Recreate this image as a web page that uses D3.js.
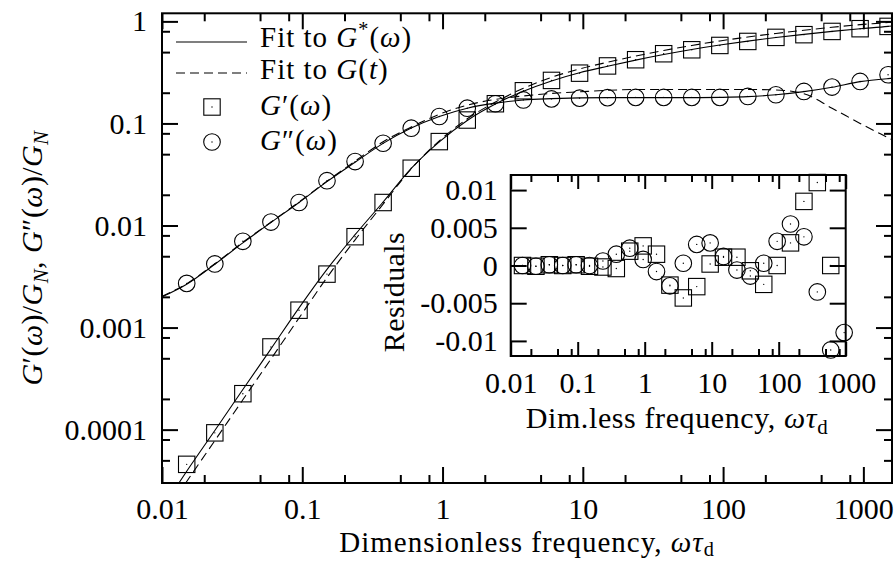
<!DOCTYPE html>
<html>
<head>
<meta charset="utf-8">
<script src="https://cdn.jsdelivr.net/npm/d3@7"></script>
<style>
  body { margin: 0; background: #fff; }
  text { font-family: "Liberation Serif", serif; fill: #000; }
</style>
</head>
<body>
<script>
// measured points (dimensionless frequency, G'/GN, G''/GN)
var freq = [0.015, 0.0238, 0.0377, 0.0598, 0.0948, 0.150, 0.238, 0.377, 0.598, 0.948,
            1.50, 2.38, 3.77, 5.98, 9.48, 15.0, 23.8, 37.7, 59.8, 94.8,
            150, 238, 377, 598, 948, 1500];
var storage = [4.57e-5, 9.3e-5, 2.25e-4, 6.46e-4, 1.48e-3, 3.34e-3, 7.77e-3, 0.0168, 0.0364, 0.0664,
               0.108, 0.156, 0.209, 0.264, 0.311, 0.366, 0.421, 0.482, 0.527, 0.581,
               0.636, 0.697, 0.741, 0.797, 0.848, 0.893];
var loss = [2.71e-3, 4.2e-3, 7.0e-3, 0.0108, 0.0168, 0.0275, 0.0423, 0.064, 0.0899, 0.117,
            0.141, 0.156, 0.170, 0.174, 0.177, 0.179, 0.180, 0.180, 0.180, 0.180,
            0.184, 0.191, 0.206, 0.227, 0.258, 0.300];

// fitted curves
var fitFreq = [0.01, 0.015, 0.0238, 0.0377, 0.0598, 0.0948, 0.150, 0.238, 0.377, 0.598, 0.948,
               1.50, 2.38, 3.77, 5.98, 9.48, 15.0, 23.8, 37.7, 59.8, 94.8,
               150, 238, 377, 598, 948, 1500, 1600];
var fitStorageStar = [1.69e-5, 3.91e-5, 9.82e-5, 2.47e-4, 6.19e-4, 1.56e-3, 3.72e-3, 8.13e-3, 0.0170, 0.0363, 0.0661,
                      0.107, 0.155, 0.207, 0.261, 0.314, 0.363, 0.417, 0.473, 0.530, 0.586,
                      0.641, 0.695, 0.746, 0.798, 0.847, 0.893, 0.902];
var fitStorageT = [1.35e-5, 3.10e-5, 7.80e-5, 1.96e-4, 4.92e-4, 1.24e-3, 3.09e-3, 7.24e-3, 0.0162, 0.0359, 0.0676,
                   0.111, 0.162, 0.221, 0.283, 0.342, 0.398, 0.457, 0.519, 0.581, 0.643,
                   0.703, 0.762, 0.818, 0.875, 0.929, 0.977, 0.986];
var fitLossStar = [2.0e-3, 2.66e-3, 4.17e-3, 6.76e-3, 0.0107, 0.0168, 0.0269, 0.0417, 0.0638, 0.0902, 0.117,
                   0.141, 0.158, 0.170, 0.175, 0.178, 0.179, 0.179, 0.179, 0.179, 0.180,
                   0.183, 0.191, 0.205, 0.226, 0.257, 0.275, 0.277];
var fitLossT = [2.02e-3, 2.69e-3, 4.22e-3, 6.84e-3, 0.0108, 0.0170, 0.0272, 0.0427, 0.0661, 0.0923, 0.123,
                0.151, 0.172, 0.186, 0.197, 0.204, 0.211, 0.215, 0.215, 0.215, 0.215,
                0.215, 0.213, 0.195, 0.141, 0.100, 0.0724, 0.0692];

// residuals shown in the inset
var residStorage = [0, -0.0001, 0.0001, 0, 0.0001, -0.0001, -0.0002, -0.0004, 0.0019, 0.0026,
                    0.0015, -0.0026, -0.0043, -0.0028, 0.0002, 0.0011, 0.0011, -0.0007, -0.0025, 0,
                    0.003, 0.0085, 0.011, 0];
var residLoss = [0, -0.0001, 0.0001, 0, 0.0001, 0, 0.0006, 0.0015, 0.0023, 0.0008,
                 -0.0008, -0.0027, 0.0003, 0.0028, 0.003, 0.0012, -0.0006, -0.0014, 0.0003, 0.0032,
                 0.0055, 0.0038, -0.0035, -0.0112, -0.0089];

// tick values
var xMajor = [0.01, 0.1, 1, 10, 100, 1000];
var xLabels = ["0.01", "0.1", "1", "10", "100", "1000"];
var yMajor = [0.0001, 0.001, 0.01, 0.1, 1];
var yLabels = ["0.0001", "0.001", "0.01", "0.1", "1"];
var insetYMajor = [-0.01, -0.005, 0, 0.005, 0.01];
var insetYLabels = ["-0.01", "-0.005", "0", "0.005", "0.01"];
var minorMult = [2, 5, 8];

var width = 896, height = 563;
var fs = 30;

const svg = d3.select("body").append("svg")
              .attr("width", width)
              .attr("height", height);

svg.append("rect").attr("width", width).attr("height", height).attr("fill", "#fff");

// main scales
var x = d3.scaleLog().domain([0.01, 1600]).range([162, 892]);
var y = d3.scaleLog().domain([3e-5, 1.2]).range([483, 13.3]);

function minorsOf(decades, scale) {
  var dom = scale.domain(), out = [];
  decades.forEach(function(d) {
    minorMult.forEach(function(m) {
      var v = d * m;
      if (v > dom[0] && v < dom[1]) out.push(v);
    });
  });
  return out;
}

function styleAxis(g) {
  g.select(".domain").remove();
  g.selectAll("line").attr("stroke", "#000").attr("stroke-width", 2);
  g.selectAll("text").attr("font-size", fs).attr("font-family", "Liberation Serif");
  return g;
}

function axes(root, xs, ys, opt) {
  var x0 = xs.range()[0], x1 = xs.range()[1];
  var y0 = ys.range()[0], y1 = ys.range()[1];
  var xMinor = minorsOf(opt.xDecades, xs);
  // bottom
  root.append("g").attr("transform", "translate(0," + y0 + ")")
      .call(d3.axisBottom(xs).tickValues(opt.xMajor).tickSize(-opt.xLong).tickPadding(opt.xPad)
            .tickFormat(function(d, i) { return opt.xLabels[i]; }))
      .call(styleAxis);
  root.append("g").attr("transform", "translate(0," + y0 + ")")
      .call(d3.axisBottom(xs).tickValues(xMinor).tickSize(-opt.xShort).tickFormat(""))
      .call(styleAxis);
  // top
  root.append("g").attr("transform", "translate(0," + y1 + ")")
      .call(d3.axisTop(xs).tickValues(opt.xMajor).tickSize(-opt.xLong).tickFormat(""))
      .call(styleAxis);
  root.append("g").attr("transform", "translate(0," + y1 + ")")
      .call(d3.axisTop(xs).tickValues(xMinor).tickSize(-opt.xShort).tickFormat(""))
      .call(styleAxis);
  // left
  root.append("g").attr("transform", "translate(" + x0 + ",0)")
      .call(d3.axisLeft(ys).tickValues(opt.yMajor).tickSize(-opt.yLong).tickPadding(opt.yPad)
            .tickFormat(function(d, i) { return opt.yLabels[i]; }))
      .call(styleAxis);
  root.append("g").attr("transform", "translate(" + x1 + ",0)")
      .call(d3.axisRight(ys).tickValues(opt.yMajor).tickSize(-opt.yLong).tickFormat(""))
      .call(styleAxis);
  if (opt.yMinor) {
    root.append("g").attr("transform", "translate(" + x0 + ",0)")
        .call(d3.axisLeft(ys).tickValues(opt.yMinor).tickSize(-opt.yShort).tickFormat(""))
        .call(styleAxis);
    root.append("g").attr("transform", "translate(" + x1 + ",0)")
        .call(d3.axisRight(ys).tickValues(opt.yMinor).tickSize(-opt.yShort).tickFormat(""))
        .call(styleAxis);
  }
  // frame
  root.append("rect")
      .attr("x", x0).attr("y", y1)
      .attr("width", x1 - x0).attr("height", y0 - y1)
      .attr("fill", "none").attr("stroke", "#000").attr("stroke-width", 2);
}

// text with italic / sub / sup pieces
function mathText(g, px, py, parts, anchor, rotate, size, spacing, subShift) {
  var f = size || fs;
  var t = g.append("text")
           .attr("font-size", f)
           .attr("letter-spacing", spacing || 0)
           .attr("text-anchor", anchor || "start");
  if (rotate) t.attr("transform", "translate(" + px + "," + py + ") rotate(" + rotate + ")");
  else t.attr("x", px).attr("y", py);
  parts.forEach(function(p) {
    var s = t.append("tspan").text(p[0]);
    var st = p[1] || "";
    if (st.indexOf("i") >= 0) s.attr("font-style", "italic");
    if (st.indexOf("sub") >= 0) s.attr("font-size", f * 0.7).attr("baseline-shift", -(subShift || 6));
    if (st.indexOf("sup") >= 0) s.attr("font-size", f * 0.7).attr("baseline-shift", 11);
  });
  return t;
}

// ---------- main plot ----------
svg.append("clipPath").attr("id", "clipMain")
   .append("rect").attr("x", 162).attr("y", 13.3).attr("width", 730).attr("height", 469.7);

var plot = svg.append("g").attr("clip-path", "url(#clipMain)");

var line = d3.line()
             .x(function(d) { return x(d[0]); })
             .y(function(d) { return y(d[1]); })
             .curve(d3.curveMonotoneX);

function fitCurve(vals, dashed) {
  plot.append("path")
      .datum(fitFreq.map(function(f, i) { return [f, vals[i]]; }))
      .attr("d", line)
      .attr("fill", "none")
      .attr("stroke", "#000")
      .attr("stroke-width", 1.1)
      .attr("stroke-dasharray", dashed ? "9,5" : null);
}
fitCurve(fitStorageStar, false);
fitCurve(fitLossStar, false);
fitCurve(fitStorageT, true);
fitCurve(fitLossT, true);

function squares(g, pts, xs, ys) {
  g.selectAll(null).data(pts).enter().append("rect")
   .attr("x", function(d) { return xs(d[0]) - 8.2; })
   .attr("y", function(d) { return ys(d[1]) - 8.2; })
   .attr("width", 16.4).attr("height", 16.4)
   .attr("fill", "none").attr("stroke", "#000").attr("stroke-width", 1.1);
  dots(g, pts, xs, ys);
}
function circles(g, pts, xs, ys) {
  g.selectAll(null).data(pts).enter().append("circle")
   .attr("cx", function(d) { return xs(d[0]); })
   .attr("cy", function(d) { return ys(d[1]); })
   .attr("r", 8.3)
   .attr("fill", "none").attr("stroke", "#000").attr("stroke-width", 1.1);
  dots(g, pts, xs, ys);
}
function dots(g, pts, xs, ys) {
  g.selectAll(null).data(pts).enter().append("circle")
   .attr("cx", function(d) { return xs(d[0]); })
   .attr("cy", function(d) { return ys(d[1]); })
   .attr("r", 0.7).attr("fill", "#000");
}

var markG = svg.append("g").attr("clip-path", "url(#clipMain)");
squares(markG, freq.map(function(f, i) { return [f, storage[i]]; }), x, y);
circles(markG, freq.map(function(f, i) { return [f, loss[i]]; }), x, y);

axes(svg, x, y, {
  xDecades: xMajor, xMajor: xMajor, xLabels: xLabels, xLong: 16, xShort: 8, xPad: 15,
  yMajor: yMajor, yLabels: yLabels, yLong: 16, yShort: 8, yPad: 15,
  yMinor: minorsOf([1e-5, 1e-4, 1e-3, 1e-2, 1e-1], y)
});

// legend
var leg = svg.append("g");
leg.append("line").attr("x1", 176).attr("x2", 247).attr("y1", 42).attr("y2", 42)
   .attr("stroke", "#000").attr("stroke-width", 1.1);
leg.append("line").attr("x1", 176).attr("x2", 247).attr("y1", 73).attr("y2", 73)
   .attr("stroke", "#000").attr("stroke-width", 1.1).attr("stroke-dasharray", "9,5");
leg.append("rect").attr("x", 212 - 8.2).attr("y", 107 - 8.2).attr("width", 16.4).attr("height", 16.4)
   .attr("fill", "none").attr("stroke", "#000").attr("stroke-width", 1.1);
leg.append("circle").attr("cx", 212).attr("cy", 142).attr("r", 8.3)
   .attr("fill", "none").attr("stroke", "#000").attr("stroke-width", 1.1);
leg.append("circle").attr("cx", 212).attr("cy", 107).attr("r", 0.7);
leg.append("circle").attr("cx", 212).attr("cy", 142).attr("r", 0.7);
mathText(leg, 260, 47, [["Fit to "], ["G", "i"], ["*", "sup"], ["("], ["\u03c9", "i"], [")"]], "start", 0, 29, 1);
mathText(leg, 260, 79, [["Fit to "], ["G", "i"], ["("], ["t", "i"], [")"]], "start", 0, 29, 1);
mathText(leg, 260, 115, [["G", "i"], ["\u2032"], ["("], ["\u03c9", "i"], [")"]], "start", 0, 29, 1);
mathText(leg, 260, 150, [["G", "i"], ["\u2033"], ["("], ["\u03c9", "i"], [")"]], "start", 0, 29, 1);

// axis titles
mathText(svg, 527, 552, [["Dimensionless frequency, "], ["\u03c9\u03c4", "i"], ["d", "sub"]], "middle", 0, 29, 1, 4);
mathText(svg, 42, 258, [["G", "i"], ["\u2032"], ["("], ["\u03c9", "i"], [")/"], ["G", "i"], ["N", "isub"],
                        [",  "], ["G", "i"], ["\u2033"], ["("], ["\u03c9", "i"], [")/"], ["G", "i"], ["N", "isub"]],
         "middle", -90, 30, 0.4);

// ---------- inset ----------
var xi = d3.scaleLog().domain([0.01, 1000]).range([510.7, 845.7]);
var yi = d3.scaleLinear().domain([-0.012, 0.012]).range([356, 175]);

var inset = svg.append("g");
inset.append("rect").attr("x", 510.7).attr("y", 175).attr("width", 335).attr("height", 181).attr("fill", "#fff");

axes(inset, xi, yi, {
  xDecades: [0.01, 0.1, 1, 10, 100], xMajor: xMajor, xLabels: xLabels, xLong: 14, xShort: 7, xPad: 16,
  yMajor: insetYMajor, yLabels: insetYLabels, yLong: 16, yPad: 13
});

squares(inset, residStorage.map(function(v, i) { return [freq[i], v]; }), xi, yi);
circles(inset, residLoss.map(function(v, i) { return [freq[i], v]; }), xi, yi);

mathText(inset, 677, 428, [["Dim.less frequency, "], ["\u03c9\u03c4", "i"], ["d", "sub"]], "middle", 0, 30, 0.6);
mathText(inset, 404, 292, [["Residuals"]], "middle", -90, 30, 0.4);
</script>
</body>
</html>
